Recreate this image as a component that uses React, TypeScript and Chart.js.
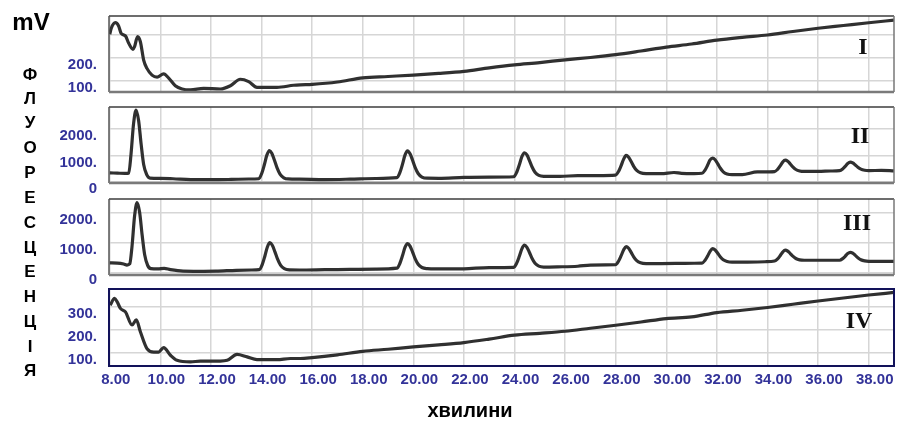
import React, { useEffect, useRef } from 'react';
import { Chart, registerables } from 'chart.js';

Chart.register(...registerables);

// ---------- data ----------
const timeI = [8.0, 8.06, 8.22, 8.35, 8.45, 8.62, 8.75, 8.92, 8.98, 9.1, 9.21, 9.34, 9.47, 9.67, 9.87, 10.13, 10.33, 10.59, 10.86, 11.19, 11.71, 12.37, 12.77, 13.16, 13.49, 13.82, 14.61, 15.27, 15.53, 16, 17, 18, 19, 20, 21, 22, 23, 24, 25, 26, 27, 28, 29, 30, 31, 32, 33, 34, 35, 36, 37, 38, 39];
const signalI = [300, 326, 350, 336, 304, 293, 261, 235, 247, 290, 268, 189, 153, 124, 115, 129, 111, 78, 64, 60, 67, 64, 78, 106, 96, 71, 71, 80, 82, 84, 94, 112, 118, 124, 131, 140, 155, 168, 178, 190, 200, 212, 228, 245, 258, 275, 287, 297, 312, 326, 338, 350, 361];

const timeII = [
  8.0, 8.3, 8.6, 8.75, 8.84, 8.94, 9.04, 9.14, 9.24, 9.34, 9.46, 9.59, 10.0, 10.5, 11.2, 12.0, 12.8, 13.5,
  13.89, 14.01, 14.11, 14.21, 14.31, 14.41, 14.51, 14.61, 14.73, 14.88, 15.05, 15.5, 16.5, 17.5, 18.5,
  19.35, 19.47, 19.57, 19.67, 19.77, 19.87, 19.97, 20.07, 20.19, 20.34, 20.55, 21.0, 22.0, 23.0,
  23.97, 24.09, 24.19, 24.29, 24.39, 24.49, 24.59, 24.69, 24.81, 24.96, 25.15, 25.8, 26.5, 27.3,
  27.99, 28.11, 28.21, 28.31, 28.41, 28.51, 28.61, 28.71, 28.83, 28.98, 29.2, 29.8, 30.3, 30.6, 31.1,
  31.41, 31.53, 31.63, 31.73, 31.83, 31.93, 32.03, 32.13, 32.25, 32.4, 32.6, 33.0, 33.6,
  34.28, 34.4, 34.5, 34.6, 34.7, 34.8, 34.9, 35.0, 35.12, 35.27, 35.45, 36.0, 36.5,
  36.85, 36.97, 37.07, 37.17, 37.27, 37.37, 37.47, 37.57, 37.69, 37.84, 38.0, 38.5, 39.0,
];
const signalII = [
  345, 335, 325, 335, 1040, 2180, 2700, 2310, 1420, 660, 280, 150, 140, 125, 95, 90, 100, 115,
  125, 332, 650, 1010, 1180, 1074, 820, 544, 300, 162, 118, 110, 95, 110, 135,
  165, 362, 665, 1008, 1170, 1059, 817, 554, 322, 190, 145, 140, 175, 185,
  200, 379, 648, 952, 1100, 1021, 806, 573, 367, 251, 215, 215, 240, 240,
  258, 397, 610, 851, 1000, 932, 769, 592, 436, 347, 318, 315, 360, 330, 320,
  330, 449, 628, 830, 900, 838, 689, 528, 385, 305, 278, 280, 380,
  395, 479, 606, 749, 820, 780, 679, 569, 472, 417, 400, 400, 415,
  430, 494, 590, 699, 750, 718, 641, 558, 484, 443, 430, 440, 420,
];

const timeIII = [
  8.0, 8.3, 8.55, 8.68, 8.79, 8.88, 8.98, 9.08, 9.18, 9.28, 9.38, 9.5, 9.63, 9.9, 10.15, 10.4, 10.9, 11.5, 12.2, 13.0, 13.6,
  13.91, 14.03, 14.13, 14.23, 14.33, 14.43, 14.53, 14.63, 14.75, 14.9, 15.1, 15.5, 16.5, 17.5, 18.5,
  19.35, 19.47, 19.57, 19.67, 19.77, 19.87, 19.97, 20.07, 20.19, 20.34, 20.55, 20.9, 22.0, 23.0,
  23.97, 24.09, 24.19, 24.29, 24.39, 24.49, 24.59, 24.69, 24.81, 24.96, 25.15, 25.7, 26.5, 27.0, 27.6,
  27.99, 28.11, 28.21, 28.31, 28.41, 28.51, 28.61, 28.71, 28.83, 28.98, 29.2, 29.8, 30.5, 31.1,
  31.41, 31.53, 31.63, 31.73, 31.83, 31.93, 32.03, 32.13, 32.25, 32.4, 32.6, 33.2, 33.9,
  34.28, 34.4, 34.5, 34.6, 34.7, 34.8, 34.9, 35.0, 35.12, 35.27, 35.45, 36.0, 36.5,
  36.85, 36.97, 37.07, 37.17, 37.27, 37.37, 37.47, 37.57, 37.69, 37.84, 38.0, 38.5, 39.0,
];
const signalIII = [
  335, 330, 300, 265, 305, 890, 1890, 2350, 2025, 1265, 610, 250, 145, 135, 155, 110, 60, 55, 60, 90, 100,
  112, 290, 560, 866, 1010, 920, 704, 470, 263, 146, 105, 100, 110, 120, 130,
  160, 325, 572, 853, 980, 897, 698, 482, 291, 183, 145, 135, 140, 180,
  190, 337, 558, 807, 930, 857, 682, 492, 324, 229, 198, 205, 225, 265, 270,
  275, 392, 568, 766, 880, 824, 688, 541, 411, 338, 313, 315, 320, 325,
  330, 423, 563, 721, 810, 766, 659, 543, 441, 383, 362, 365, 375,
  400, 471, 577, 697, 765, 731, 649, 561, 483, 439, 425, 425, 425,
  425, 478, 558, 648, 690, 660, 588, 510, 441, 402, 390, 390, 385,
];

const timeIV = [8.02, 8.19, 8.3, 8.42, 8.62, 8.88, 9.05, 9.21, 9.47, 9.74, 9.93, 10.13, 10.4, 10.66, 11.19, 11.58, 12.37, 12.64, 13.03, 13.43, 13.82, 14.61, 15.14, 15.53, 16, 17, 18, 19, 20, 21, 22, 23, 24, 25, 26, 27, 28, 29, 30, 31, 32, 33, 34, 35, 36, 37, 38, 39];
const signalIV = [307, 337, 320, 293, 278, 221, 243, 192, 119, 104, 104, 123, 90, 68, 61, 65, 65, 68, 94, 83, 71, 71, 76, 76, 80, 92, 107, 116, 126, 135, 145, 160, 177, 185, 194, 207, 220, 234, 249, 256, 275, 285, 297, 311, 325, 338, 351, 362];

const xTickValues = [8, 10, 12, 14, 16, 18, 20, 22, 24, 26, 28, 30, 32, 34, 36, 38];
const xTickLabels = ['8.00', '10.00', '12.00', '14.00', '16.00', '18.00', '20.00', '22.00', '24.00', '26.00', '28.00', '30.00', '32.00', '34.00', '36.00', '38.00'];

const yTicksI = [100, 200, 300];
const yLabelsI = ['100.', '200.', ''];
const yTicksII = [0, 1000, 2000];
const yLabelsII = ['0', '1000.', '2000.'];
const yTicksIII = [0, 1000, 2000];
const yLabelsIII = ['0', '1000.', '2000.'];
const yTicksIV = [100, 200, 300];
const yLabelsIV = ['100.', '200.', '300.'];

const panelNames = ['I', 'II', 'III', 'IV'];
const yAxisLetters = ['Ф', 'Л', 'У', 'О', 'Р', 'Е', 'С', 'Ц', 'Е', 'Н', 'Ц', 'І', 'Я'];
const unitLabel = 'mV';
const xAxisTitle = 'хвилини';

// ---------- layout / style ----------
const W = 897;
const AREA_LEFT = 109;
const AREA_RIGHT = 894;
const X_MIN = 7.97;
const X_MAX = 39.0;
const TOP_PAD = 12;
const TICK_COLOR = '#333399';
const GRID_COLOR = '#d6d6d6';
const LINE_COLOR = '#303030';
const SANS = '"Liberation Sans", Arial, Helvetica, sans-serif';
const SERIF = '"Liberation Serif", "Times New Roman", serif';

type PanelCfg = {
  times: number[];
  values: number[];
  yMin: number;
  yMax: number;
  yTicks: number[];
  yLabels: string[];
  top: number;
  bottom: number;
  bottomPad: number;
  showX: boolean;
  navy: boolean;
  name: string;
  nameX: number;
  nameY: number;
};

const panels: PanelCfg[] = [
  { times: timeI, values: signalI, yMin: 51, yMax: 379, yTicks: yTicksI, yLabels: yLabelsI, top: 16, bottom: 92, bottomPad: 14, showX: false, navy: false, name: panelNames[0], nameX: 863, nameY: 46 },
  { times: timeII, values: signalII, yMin: -34, yMax: 2813, yTicks: yTicksII, yLabels: yLabelsII, top: 107, bottom: 183, bottomPad: 14, showX: false, navy: false, name: panelNames[1], nameX: 860, nameY: 135 },
  { times: timeIII, values: signalIII, yMin: -67, yMax: 2467, yTicks: yTicksIII, yLabels: yLabelsIII, top: 199, bottom: 275, bottomPad: 14, showX: false, navy: false, name: panelNames[2], nameX: 857, nameY: 222 },
  { times: timeIV, values: signalIV, yMin: 43.5, yMax: 377, yTicks: yTicksIV, yLabels: yLabelsIV, top: 289, bottom: 366, bottomPad: 36, showX: true, navy: true, name: panelNames[3], nameX: 859, nameY: 320 },
];

const framePlugin = {
  id: 'frame',
  afterDraw(chart: any, _args: any, opts: any) {
    const { ctx, chartArea } = chart;
    const { left, top, right, bottom } = chartArea;
    ctx.save();
    if (opts && opts.navy) {
      ctx.strokeStyle = '#12125a';
      ctx.lineWidth = 2;
      ctx.strokeRect(left, top, right - left, bottom - top);
    } else {
      ctx.lineWidth = 1.5;
      ctx.strokeStyle = '#3c3c3c';
      ctx.beginPath();
      ctx.moveTo(left, top); ctx.lineTo(right, top);
      ctx.stroke();
      ctx.strokeStyle = '#555';
      ctx.beginPath();
      ctx.moveTo(left, top); ctx.lineTo(left, bottom);
      ctx.stroke();
      ctx.strokeStyle = '#777';
      ctx.beginPath();
      ctx.moveTo(right, top); ctx.lineTo(right, bottom);
      ctx.stroke();
      ctx.lineWidth = 2.5;
      ctx.strokeStyle = '#7a7a7a';
      ctx.beginPath();
      ctx.moveTo(left, bottom); ctx.lineTo(right, bottom);
      ctx.stroke();
    }
    ctx.restore();
  },
};

const zeroPadding = (scale: any) => {
  scale.paddingTop = 0;
  scale.paddingBottom = 0;
  scale.paddingLeft = 0;
  scale.paddingRight = 0;
};

function Panel({ cfg }: { cfg: PanelCfg }) {
  const ref = useRef<HTMLCanvasElement>(null);
  const h = TOP_PAD + (cfg.bottom - cfg.top) + cfg.bottomPad;
  useEffect(() => {
    if (!ref.current) return;
    const chart = new Chart(ref.current, {
      type: 'line',
      data: {
        datasets: [
          {
            data: cfg.times.map((t, i) => ({ x: t, y: cfg.values[i] })),
            borderColor: LINE_COLOR,
            borderWidth: 3.2,
            pointRadius: 0,
            fill: false,
            cubicInterpolationMode: 'monotone',
          },
        ],
      },
      options: {
        animation: false,
        responsive: false,
        maintainAspectRatio: false,
        layout: { padding: { left: 0, right: W - AREA_RIGHT, top: TOP_PAD, bottom: 0 } },
        plugins: {
          legend: { display: false },
          tooltip: { enabled: false },
          frame: { navy: cfg.navy },
        } as any,
        scales: {
          x: {
            type: 'linear',
            min: X_MIN,
            max: X_MAX,
            afterBuildTicks: (scale: any) => {
              scale.ticks = xTickValues.map((v) => ({ value: v }));
            },
            afterFit: (scale: any) => {
              scale.height = cfg.bottomPad;
              zeroPadding(scale);
            },
            ticks: {
              display: cfg.showX,
              autoSkip: false,
              maxRotation: 0,
              padding: 5,
              labelOffset: 6,
              color: TICK_COLOR,
              font: { family: SANS, size: 15, weight: 'bold' },
              callback: (v: any) => {
                const idx = xTickValues.indexOf(Number(v));
                return idx >= 0 ? xTickLabels[idx] : '';
              },
            },
            grid: { color: GRID_COLOR, lineWidth: 1.5, drawTicks: false },
            border: { display: false },
          },
          y: {
            type: 'linear',
            min: cfg.yMin,
            max: cfg.yMax,
            afterBuildTicks: (scale: any) => {
              scale.ticks = cfg.yTicks.map((v) => ({ value: v }));
            },
            afterFit: (scale: any) => {
              scale.width = AREA_LEFT;
              zeroPadding(scale);
            },
            ticks: {
              padding: 12,
              labelOffset: 7,
              color: TICK_COLOR,
              font: { family: SANS, size: 15, weight: 'bold' },
              callback: (v: any) => {
                const idx = cfg.yTicks.indexOf(Number(v));
                return idx >= 0 ? cfg.yLabels[idx] : '';
              },
            },
            grid: { color: GRID_COLOR, lineWidth: 1.5, drawTicks: false },
            border: { display: false },
          },
        },
      } as any,
      plugins: [framePlugin],
    });
    return () => chart.destroy();
  }, []);
  return (
    <canvas
      ref={ref}
      width={W}
      height={h}
      style={{ position: 'absolute', left: 0, top: cfg.top - TOP_PAD, width: W, height: h }}
    />
  );
}

const letterTops = [74, 98, 122, 147, 172, 197, 222, 247, 271, 296, 321, 346, 370];

export default function App() {
  return (
    <div style={{ position: 'fixed', left: 0, top: 0, width: W, height: 427, background: '#fff', overflow: 'hidden' }}>
      {panels.map((p, i) => (
        <Panel key={i} cfg={p} />
      ))}
      {panels.map((p, i) => (
        <div
          key={'n' + i}
          style={{
            position: 'absolute',
            left: p.nameX,
            top: p.nameY,
            transform: 'translate(-50%, -50%)',
            font: `bold 24px ${SERIF}`,
            lineHeight: 1,
            color: '#111',
            whiteSpace: 'nowrap',
          }}
        >
          {p.name}
        </div>
      ))}
      <div
        style={{
          position: 'absolute',
          left: 31,
          top: 22,
          transform: 'translate(-50%, -50%)',
          font: `bold 24px ${SANS}`,
          lineHeight: 1,
          color: '#000',
        }}
      >
        {unitLabel}
      </div>
      {yAxisLetters.map((ch, i) => (
        <div
          key={'l' + i}
          style={{
            position: 'absolute',
            left: 30,
            top: letterTops[i],
            transform: 'translate(-50%, -50%)',
            font: `bold 17px ${SANS}`,
            lineHeight: 1,
            color: '#000',
          }}
        >
          {ch}
        </div>
      ))}
      <div
        style={{
          position: 'absolute',
          left: 470,
          top: 410,
          transform: 'translate(-50%, -50%)',
          font: `bold 20px ${SANS}`,
          lineHeight: 1,
          color: '#000',
          whiteSpace: 'nowrap',
        }}
      >
        {xAxisTitle}
      </div>
    </div>
  );
}
